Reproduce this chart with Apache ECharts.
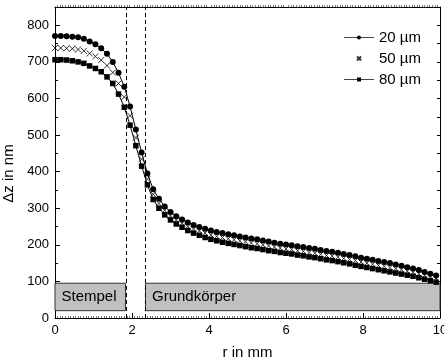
<!DOCTYPE html>
<html>
<head>
<meta charset="utf-8">
<script src="https://cdn.jsdelivr.net/npm/echarts@6.0.0/dist/echarts.min.js"></script>
<style>
  html, body { margin: 0; padding: 0; background: #fff; }
  #chart { width: 444px; height: 361px; }
</style>
</head>
<body>
<div id="chart"></div>
<script>
// r in mm (Messpunkte)
var r = [0, 0.15, 0.3, 0.45, 0.6, 0.75, 0.9, 1.05, 1.2, 1.35, 1.5, 1.65, 1.8, 1.95, 2.1, 2.25, 2.4, 2.55, 2.7, 2.85,
  3.0, 3.15, 3.3, 3.45, 3.6, 3.75, 3.9, 4.05, 4.2, 4.35, 4.5, 4.65, 4.8, 4.95, 5.1, 5.25, 5.4, 5.55, 5.7, 5.85,
  6.0, 6.15, 6.3, 6.45, 6.6, 6.75, 6.9, 7.05, 7.2, 7.35, 7.5, 7.65, 7.8, 7.95, 8.1, 8.25, 8.4, 8.55, 8.7, 8.85,
  9.0, 9.15, 9.3, 9.45, 9.6, 9.75, 9.9]

// Δz in nm
var dz20 = [771, 771, 770, 769, 767, 763, 756, 748, 737, 722, 700, 670, 632, 578, 515, 452, 395, 352, 326, 305,
  290, 278, 269, 261, 254, 249, 244, 239, 235, 232, 229, 226, 223, 220, 217, 215, 212, 209, 206, 203,
  201, 199, 196, 194, 191, 189, 186, 183, 181, 178, 175, 172, 169, 165, 162, 159, 156, 153, 150, 146,
  143, 139, 135, 131, 126, 121, 116]
var dz50 = [738, 738, 737, 736, 734, 730, 723, 715, 705, 690, 671, 641, 604, 553, 493, 434, 380, 338, 313, 294,
  279, 268, 259, 250, 243, 238, 232, 227, 223, 220, 217, 214, 211, 208, 205, 203, 200, 197, 194, 191,
  189, 187, 184, 182, 179, 177, 174, 171, 169, 166, 163, 160, 157, 153, 150, 147, 144, 141, 138, 135,
  132, 128, 125, 121, 116, 112, 107]
var dz80 = [706, 706, 705, 703, 700, 696, 689, 682, 673, 659, 641, 612, 576, 527, 471, 415, 364, 324, 300, 282,
  268, 257, 248, 239, 232, 226, 220, 215, 211, 207, 204, 201, 198, 195, 192, 190, 187, 184, 182, 179,
  177, 175, 172, 170, 167, 165, 162, 159, 157, 154, 151, 148, 144, 141, 138, 135, 132, 129, 126, 123,
  120, 117, 114, 110, 106, 102, 98]

var seriesNames = ['20 µm', '50 µm', '80 µm']
var dashedAt = [1.85, 2.34] // Grenzen Stempel / Grundkörper
var boxLabels = ['Stempel', 'Grundkörper']
var boxX = [[0, 1.83], [2.35, 10]]
var boxY = [20, 95]

var font = 'Liberation Sans, Arial, sans-serif'
var chart = echarts.init(document.getElementById('chart'))

function pairs (ys) {
  return r.map(function (x, i) { return [x, ys[i]] })
}

var option = {
  animation: false,
  textStyle: { fontFamily: font },
  grid: { left: 55, right: 4, top: 7, bottom: 43, outerBoundsMode: 'none', containLabel: false },
  legend: {
    orient: 'vertical',
    right: 23,
    top: 30,
    padding: 0,
    align: 'left',
    itemWidth: 30,
    itemHeight: 5,
    itemGap: 6,
    selectedMode: false,
    textStyle: { fontSize: 15, color: '#000', fontFamily: font },
    data: [
      { name: seriesNames[0], lineStyle: { width: 1, color: '#444' } },
      { name: seriesNames[1], icon: 'path://M0,0M30,5M13,0.5L17,4.5M17,0.5L13,4.5' },
      { name: seriesNames[2], lineStyle: { width: 1, color: '#444' } }
    ]
  },
  xAxis: [
    {
      type: 'value',
      min: 0,
      max: 10,
      interval: 2,
      name: 'r in mm',
      nameLocation: 'middle',
      nameGap: 27,
      nameTextStyle: { fontSize: 15, color: '#000', fontFamily: font },
      axisLine: { lineStyle: { color: '#000', width: 1 } },
      axisTick: { inside: true, length: 5, lineStyle: { color: '#000' } },
      minorTick: { show: true, splitNumber: 30, length: 2, lineStyle: { color: '#777' } },
      axisLabel: { fontSize: 13, color: '#000', margin: 6, fontFamily: font },
      splitLine: { show: false }
    },
    {
      type: 'value',
      position: 'top',
      min: 0,
      max: 10,
      interval: 2,
      axisLine: { onZero: false, lineStyle: { color: '#000', width: 1 } },
      axisTick: { show: false },
      minorTick: { show: true, splitNumber: 30, length: 2, lineStyle: { color: '#777' } },
      axisLabel: { show: false },
      splitLine: { show: false }
    }
  ],
  yAxis: [
    {
      type: 'value',
      min: 0,
      max: 850,
      interval: 100,
      name: 'Δz in nm',
      nameLocation: 'middle',
      nameGap: 27,
      nameRotate: 90,
      nameTextStyle: { fontSize: 15, color: '#000', fontFamily: font, padding: [0, 22, 0, 0] },
      axisLine: { show: true, lineStyle: { color: '#000', width: 1 } },
      axisTick: { inside: true, length: 5, lineStyle: { color: '#000' } },
      minorTick: { show: true, splitNumber: 2, length: 3, lineStyle: { color: '#000' } },
      axisLabel: { fontSize: 13, color: '#000', margin: 6, showMaxLabel: false, fontFamily: font },
      splitLine: { show: false }
    },
    {
      type: 'value',
      position: 'right',
      min: 0,
      max: 850,
      interval: 50,
      axisLine: { show: true, onZero: false, lineStyle: { color: '#000', width: 1 } },
      axisTick: { inside: true, length: 3, lineStyle: { color: '#000' } },
      axisLabel: { show: false },
      splitLine: { show: false }
    }
  ],
  series: [
    {
      name: seriesNames[0],
      type: 'line',
      data: pairs(dz20),
      symbol: 'circle',
      symbolSize: 6,
      lineStyle: { color: '#000', width: 1 },
      itemStyle: { color: '#000' },
      z: 3,
      markArea: {
        silent: true,
        itemStyle: { color: '#c0c0c0', borderColor: '#333', borderWidth: 1 },
        label: { show: true, position: 'insideLeft', distance: 7, color: '#000', fontSize: 15, fontFamily: font },
        data: boxLabels.map(function (name, i) {
          return [{ name: name, coord: [boxX[i][0], boxY[0]] }, { coord: [boxX[i][1], boxY[1]] }]
        })
      },
      markLine: {
        silent: true,
        symbol: 'none',
        label: { show: false },
        lineStyle: { color: '#000', type: [4, 3], width: 1 },
        data: dashedAt.map(function (x) { return { xAxis: x } })
      }
    },
    {
      name: seriesNames[1],
      type: 'scatter',
      data: pairs(dz50),
      symbol: 'path://M0,0L10,10M10,0L0,10',
      symbolSize: 6,
      itemStyle: { color: 'rgba(0,0,0,0)', borderColor: '#000', borderWidth: 1 },
      z: 3
    },
    {
      name: seriesNames[2],
      type: 'line',
      data: pairs(dz80),
      symbol: 'rect',
      symbolSize: 5.5,
      lineStyle: { color: '#000', width: 1 },
      itemStyle: { color: '#000' },
      z: 3
    }
  ]
}
chart.setOption(option)
</script>
</body>
</html>
